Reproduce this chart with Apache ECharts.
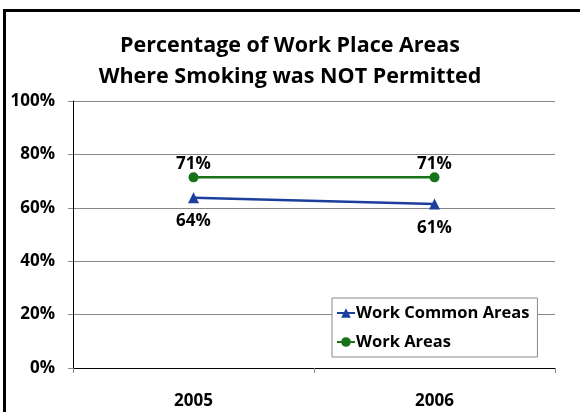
<!DOCTYPE html>
<html><head><meta charset="utf-8">
<script src="https://cdn.jsdelivr.net/npm/echarts@6/dist/echarts.min.js"></script>
<style>html,body{margin:0;padding:0;background:#fff}#c{width:580px;height:412px}</style>
</head><body><div id="c"></div>
<script>
var categories = ['2005', '2006'];
var workCommonAreas = [63.8, 61.4];
var workAreas = [71.4, 71.4];
var yTicks = [0, 20, 40, 60, 80, 100];

var FONT = '"Open Sans"';
var chart = echarts.init(document.getElementById('c'), null, {renderer: 'canvas'});
chart.setOption({
  animation: false,
  backgroundColor: '#fff',
  title: {
    text: 'Percentage of Work Place Areas\nWhere Smoking was NOT Permitted',
    left: 'center', top: 25,
    textStyle: {fontFamily: FONT, fontWeight: 'bold', fontSize: 21.5, lineHeight: 31, color: '#000'}
  },
  graphic: [{type: 'rect', shape: {x: 4.5, y: 10.5, width: 700, height: 500}, style: {fill: 'none', stroke: '#000', lineWidth: 3}, silent: true}],
  grid: {left: 73, top: 101, right: 25, bottom: 44},
  legend: {
    orient: 'vertical', left: 332, top: 298,
    backgroundColor: '#fff', borderColor: '#888', borderWidth: 1,
    padding: [5, 8, 5, 4], itemGap: 9, itemWidth: 18, itemHeight: 12,
    textStyle: {fontFamily: FONT, fontWeight: 'bold', fontSize: 16.5, lineHeight: 20, color: '#000', padding: [0, 0, 0, -4]},
    data: ['Work Common Areas', 'Work Areas']
  },
  xAxis: {
    type: 'category', data: categories, boundaryGap: true,
    axisLine: {lineStyle: {color: '#000', width: 1}},
    axisTick: {show: true, interval: 0, length: 5, lineStyle: {color: '#888'}},
    axisLabel: {fontFamily: FONT, fontWeight: 'bold', fontSize: 17, color: '#000', margin: 25}
  },
  yAxis: {
    type: 'value', min: 0, max: 100, interval: 20,
    axisLine: {show: true, lineStyle: {color: '#000'}},
    axisTick: {show: true, length: 5, lineStyle: {color: '#888'}},
    splitLine: {lineStyle: {color: '#888'}},
    axisLabel: {fontFamily: FONT, fontWeight: 'bold', fontSize: 17, color: '#000', margin: 18,
      formatter: function(v){ return yTicks.indexOf(v) >= 0 ? v + '%' : ''; }}
  },
  series: [
    {name: 'Work Common Areas', type: 'line', data: workCommonAreas,
     symbol: 'triangle', symbolSize: 11,
     itemStyle: {color: '#1c3f9e'}, lineStyle: {color: '#1c3f9e', width: 2.5},
     label: {show: true, position: 'bottom', distance: 10, fontFamily: FONT, fontWeight: 'bold', fontSize: 17, color: '#000',
       formatter: function(p){ return Math.round(p.value) + '%'; }}},
    {name: 'Work Areas', type: 'line', data: workAreas,
     symbol: 'circle', symbolSize: 10,
     itemStyle: {color: '#17721a'}, lineStyle: {color: '#17721a', width: 2.5},
     label: {show: true, position: 'top', distance: 0, fontFamily: FONT, fontWeight: 'bold', fontSize: 17, color: '#000',
       formatter: function(p){ return Math.round(p.value) + '%'; }}}
  ]
});
</script></body></html>
